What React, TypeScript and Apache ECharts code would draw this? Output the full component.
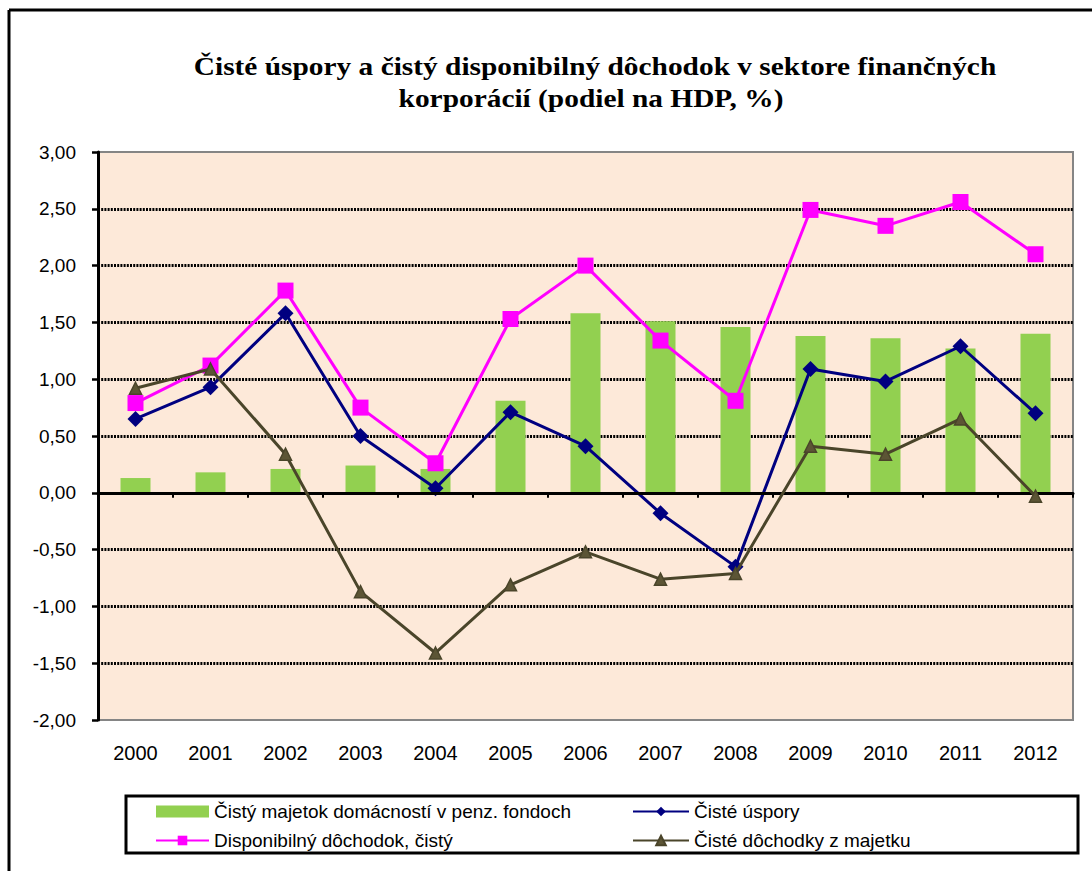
import React, { useEffect, useRef } from "react";
import * as echarts from "echarts";

const years = ["2000", "2001", "2002", "2003", "2004", "2005", "2006", "2007", "2008", "2009", "2010", "2011", "2012"];
const pensionFunds = [0.13, 0.18, 0.21, 0.24, 0.21, 0.81, 1.58, 1.51, 1.46, 1.38, 1.36, 1.27, 1.4];
const netSavings = [0.65, 0.93, 1.58, 0.5, 0.04, 0.71, 0.41, -0.18, -0.65, 1.09, 0.98, 1.29, 0.7];
const disposableIncome = [0.79, 1.12, 1.78, 0.75, 0.26, 1.53, 2.0, 1.34, 0.81, 2.49, 2.35, 2.56, 2.1];
const propertyIncome = [0.92, 1.09, 0.34, -0.87, -1.41, -0.81, -0.52, -0.76, -0.71, 0.41, 0.34, 0.65, -0.03];

const titleLine1 = "Čisté úspory a čistý disponibilný dôchodok v sektore finančných";
const titleLine2 = "korporácií (podiel na HDP, %)";

const nameBar = "Čistý majetok domácností v penz. fondoch";
const nameSavings = "Čisté úspory";
const nameDisposable = "Disponibilný dôchodok, čistý";
const nameProperty = "Čisté dôchodky z majetku";

const SANS = '"Liberation Sans", Arial, sans-serif';
const SERIF = '"Liberation Serif", "Times New Roman", serif';

export default function App() {
  const ref = useRef<HTMLDivElement>(null);

  useEffect(() => {
    if (!ref.current) return;
    const chart = echarts.init(ref.current, null, { renderer: "svg" });
    const legendText = { color: "#000", fontSize: 19, fontFamily: SANS, lineHeight: 19 };
    chart.setOption({
      animation: false,
      backgroundColor: "#fff",
      grid: {
        show: true,
        left: 98,
        right: 19,
        top: 152,
        bottom: 151,
        backgroundColor: "#FDE9D9",
        borderColor: "#858585",
        borderWidth: 2,
      },
      graphic: [
        { type: "line", shape: { x1: 9, y1: 10, x2: 1092, y2: 10 }, style: { stroke: "#000", lineWidth: 3 } },
        { type: "line", shape: { x1: 9, y1: 10, x2: 9, y2: 871 }, style: { stroke: "#000", lineWidth: 3 } },
        {
          type: "text",
          x: 595,
          y: 66,
          scaleX: 1.13,
          style: {
            text: titleLine1,
            font: `bold 26px ${SERIF}`,
            fill: "#000",
            textAlign: "center",
            textVerticalAlign: "middle",
          },
        },
        {
          type: "text",
          x: 591,
          y: 98,
          scaleX: 1.13,
          style: {
            text: titleLine2,
            font: `bold 26px ${SERIF}`,
            fill: "#000",
            textAlign: "center",
            textVerticalAlign: "middle",
          },
        },
        {
          type: "rect",
          shape: { x: 126, y: 796, width: 952, height: 57 },
          style: { fill: "none", stroke: "#000", lineWidth: 3 },
          z: 10,
        },
      ],
      legend: [
        {
          left: 150,
          top: 797,
          orient: "vertical",
          itemWidth: 53,
          itemHeight: 12,
          itemGap: 10,
          selectedMode: false,
          textStyle: legendText,
          data: [{ name: nameBar, icon: "rect" }, nameDisposable],
        },
        {
          left: 627,
          top: 797,
          orient: "vertical",
          itemWidth: 56,
          itemHeight: 12,
          itemGap: 10,
          selectedMode: false,
          textStyle: legendText,
          data: [nameSavings, nameProperty],
        },
      ],
      xAxis: [
        {
          type: "category",
          data: years,
          boundaryGap: true,
          axisLine: { show: true, onZero: true, lineStyle: { color: "#000", width: 3 } },
          axisTick: { show: true, interval: 0, length: 5, lineStyle: { color: "#000", width: 2 } },
          axisLabel: { show: false },
          splitLine: { show: false },
          z: 5,
        },
        {
          type: "category",
          data: years,
          position: "bottom",
          boundaryGap: true,
          axisLine: { show: false, onZero: false },
          axisTick: { show: false },
          axisLabel: { show: true, interval: 0, margin: 23, color: "#000", fontSize: 20, fontFamily: SANS },
          splitLine: { show: false },
        },
      ],
      yAxis: {
        type: "value",
        min: -2,
        max: 3,
        interval: 0.5,
        axisLine: { show: true, lineStyle: { color: "#000", width: 3 } },
        axisTick: { show: true, length: 6, lineStyle: { color: "#000", width: 2.5 } },
        axisLabel: {
          margin: 22,
          color: "#000",
          fontSize: 19,
          fontFamily: SANS,
          formatter: (v: number) => v.toFixed(2).replace(".", ","),
        },
        splitLine: {
          show: true,
          showMinLine: false,
          showMaxLine: false,
          lineStyle: { color: "#000", width: 3, type: [2, 1.2] },
        },
      },
      series: [
        {
          name: nameBar,
          type: "bar",
          data: pensionFunds,
          barWidth: 30,
          itemStyle: { color: "#92D050" },
          z: 2,
        },
        {
          name: nameSavings,
          type: "line",
          data: netSavings,
          symbol: "diamond",
          symbolSize: 16,
          lineStyle: { color: "#000080", width: 3 },
          itemStyle: { color: "#000080" },
          z: 3,
        },
        {
          name: nameDisposable,
          type: "line",
          data: disposableIncome,
          symbol: "rect",
          symbolSize: 16,
          lineStyle: { color: "#FF00FF", width: 3 },
          itemStyle: { color: "#FF00FF" },
          z: 4,
        },
        {
          name: nameProperty,
          type: "line",
          data: propertyIncome,
          symbol: "triangle",
          symbolSize: 12,
          lineStyle: { color: "#4A452A", width: 3 },
          itemStyle: { color: "#5C5535", borderColor: "#4A452A", borderWidth: 1.5 },
          z: 5,
        },
      ],
    });
    return () => chart.dispose();
  }, []);

  return (
    <div
      ref={ref}
      style={{ position: "fixed", left: 0, top: 0, width: 1092, height: 871 }}
    />
  );
}
